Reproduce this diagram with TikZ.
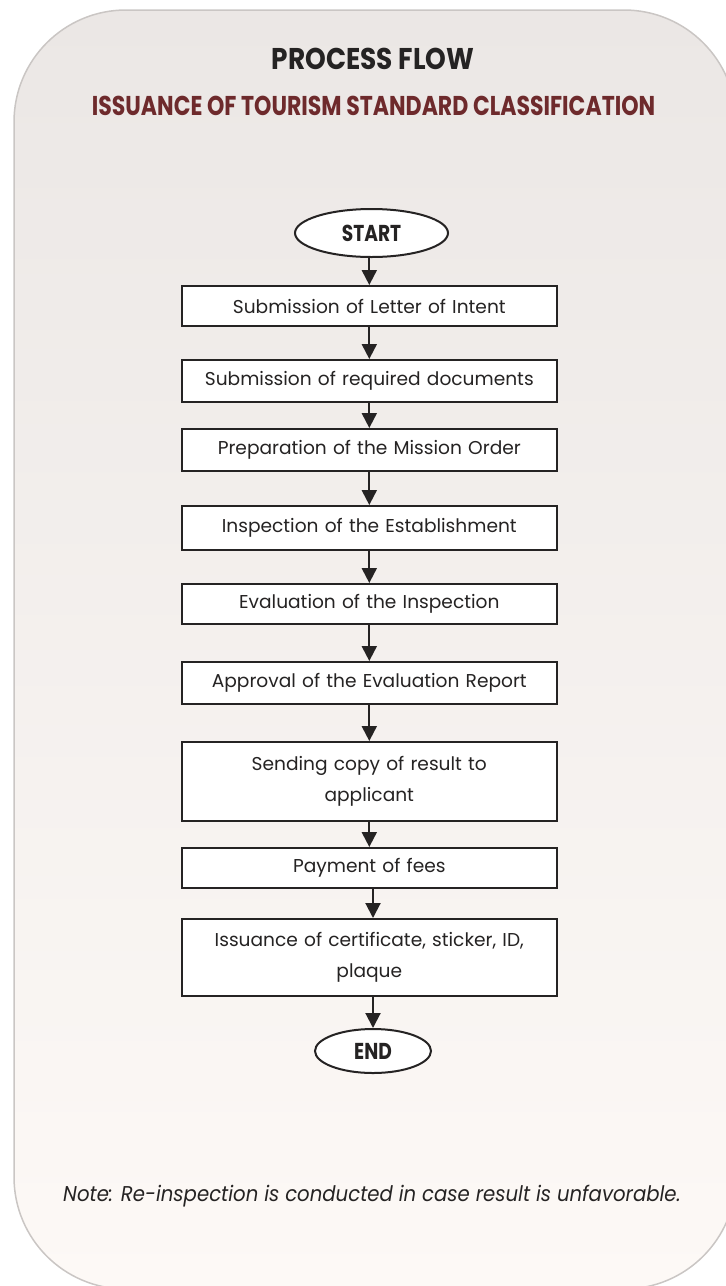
\documentclass[tikz,border=0pt]{standalone}
\usepackage{fontspec}
\setmainfont{Poppins}
\newfontfamily\narrowfont[FakeStretch=0.81]{Poppins}
\newfontfamily\headfont[FakeStretch=0.88]{Poppins}
\newfontfamily\notefont[FakeStretch=0.92]{Poppins}
\usetikzlibrary{shapes.geometric,arrows.meta}
\definecolor{panelTop}{HTML}{EBE7E5}
\definecolor{panelBottom}{HTML}{FDF9F6}
\definecolor{panelEdge}{HTML}{CAC6C4}
\definecolor{inkGrey}{HTML}{252323}
\definecolor{titleRed}{HTML}{6E2A2C}

\begin{document}
\begin{tikzpicture}[x=0.5pt,y=-0.5pt,
    stepbox/.style={draw=inkGrey, line width=1pt, fill=white, text=inkGrey,
      minimum width=187.5pt, inner sep=0pt, text width=180pt, align=center,
      font=\fontsize{9.3}{15.5}\selectfont},
    terminal/.style={draw=inkGrey, ellipse, line width=1pt, fill=white, text=inkGrey,
      inner sep=0pt, font=\narrowfont\bfseries\fontsize{11.5}{13}\selectfont},
    flow/.style={-{Triangle[width=7.5pt,length=7.5pt]}, line width=1pt, draw=inkGrey}]
  \useasboundingbox (0,0) rectangle (725,1286);
  % panel
  \shade[top color=panelTop, bottom color=panelBottom, draw=panelEdge, line width=0.75pt,
    rounded corners=56pt] (14,10) rectangle (736,1289);

  % headings
  \node[anchor=base, text=inkGrey, font=\headfont\bfseries\fontsize{15}{18}\selectfont]
    (title) at (373,69) {PROCESS FLOW};
  \node[anchor=base, text=titleRed, font=\narrowfont\bfseries\fontsize{13.6}{16}\selectfont]
    (subtitle) at (373.5,115) {ISSUANCE OF TOURISM STANDARD CLASSIFICATION};

  % flow
  \node[terminal, minimum width=76.5pt, minimum height=24pt] (start) at (371.5,233) {START};
  \node[stepbox, minimum height=20pt] (b1) at (369.3,306) {Submission of Letter of Intent};
  \node[stepbox, minimum height=21pt] (b2) at (369.3,381) {Submission of required documents};
  \node[stepbox, minimum height=21pt] (b3) at (369.3,450) {Preparation of the Mission Order};
  \node[stepbox, minimum height=22pt] (b4) at (369.3,528) {Inspection of the Establishment};
  \node[stepbox, minimum height=20pt] (b5) at (369.3,604) {Evaluation of the Inspection};
  \node[stepbox, minimum height=21pt] (b6) at (369.3,683) {Approval of the Evaluation Report};
  \node[stepbox, minimum height=39.5pt] (b7) at (369.3,781.5) {Sending copy of result to\\applicant};
  \node[stepbox, minimum height=20pt] (b8) at (369.3,868) {Payment of fees};
  \node[stepbox, minimum height=38.5pt] (b9) at (369.3,957.5) {Issuance of certificate, sticker, ID,\\plaque};
  \node[terminal, minimum width=58pt, minimum height=22pt] (end) at (373,1051) {END};

  \draw[flow] (start.south -| b1) -- (b1.north);
  \draw[flow] (b1) -- (b2);
  \draw[flow] (b2) -- (b3);
  \draw[flow] (b3) -- (b4);
  \draw[flow] (b4) -- (b5);
  \draw[flow] (b5) -- (b6);
  \draw[flow] (b6) -- (b7);
  \draw[flow] (b7) -- (b8);
  \draw[flow] (b8.south -| end) -- (b9.north -| end);
  \draw[flow] (b9.south -| end) -- (end.north);

  % note
  \node[anchor=base, text=inkGrey, font=\notefont\itshape\fontsize{10.7}{13}\selectfont]
    (note) at (372,1201) {Note: Re-inspection is conducted in case result is unfavorable.};
\end{tikzpicture}
\end{document}
